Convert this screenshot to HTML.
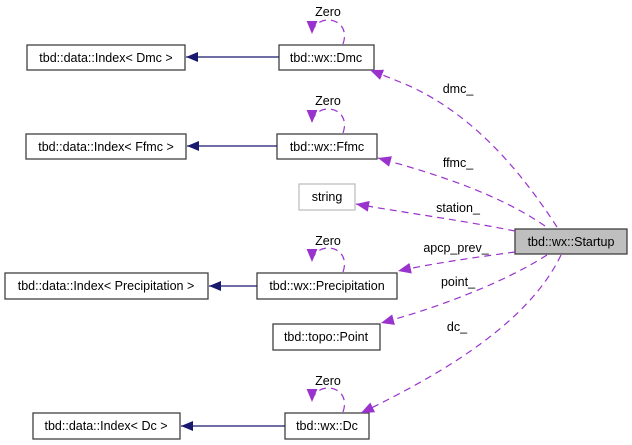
<!DOCTYPE html>
<html><head><meta charset="utf-8"><style>
html,body{margin:0;padding:0;background:#fff;}
svg{display:block;}
text{font-family:"Liberation Sans",Arial,sans-serif;font-size:12.5px;fill:#000;}
</style></head><body>
<svg width="632" height="445" viewBox="0 0 632 445" xmlns="http://www.w3.org/2000/svg">
<defs>
<marker id="pa" viewBox="0 0 12 10" refX="12" refY="5" markerWidth="13" markerHeight="11" markerUnits="userSpaceOnUse" orient="auto"><path d="M0,0 L12,5 L0,10 z" fill="#9a32cd"/></marker>
<marker id="ba" viewBox="0 0 12 10" refX="12" refY="5" markerWidth="12" markerHeight="10" markerUnits="userSpaceOnUse" orient="auto"><path d="M0,0 L12,5 L0,10 z" fill="#191970"/></marker>
</defs>
<g fill="#fff" stroke="#404040" stroke-width="1.3">
<rect x="27" y="45" width="158" height="25"/>
<rect x="279" y="45" width="95" height="25"/>
<rect x="26" y="134" width="160" height="25"/>
<rect x="277" y="134" width="100" height="25"/>
<rect x="299" y="184" width="56" height="26" stroke="#bfbfbf"/>
<rect x="515" y="229" width="112" height="25" fill="#bfbfbf"/>
<rect x="5" y="273" width="203" height="26"/>
<rect x="257" y="273" width="140" height="26"/>
<rect x="273" y="324" width="107" height="26"/>
<rect x="33" y="413" width="147" height="26"/>
<rect x="285" y="413" width="84" height="26"/>
</g>
<g stroke="#191970" stroke-width="1.2" fill="none">
<line x1="279" y1="57" x2="186" y2="57" marker-end="url(#ba)"/>
<line x1="277" y1="146" x2="187" y2="146" marker-end="url(#ba)"/>
<line x1="257" y1="286" x2="209" y2="286" marker-end="url(#ba)"/>
<line x1="285" y1="426" x2="181" y2="426" marker-end="url(#ba)"/>
</g>
<g stroke="#9a32cd" stroke-width="1.2" fill="none" stroke-dasharray="7,5">
<path d="M343,44 C348,30 340,20 328,20 C318,20 312,28 312,34" marker-end="url(#pa)"/>
<path d="M343,133 C348,119 340,109 328,109 C318,109 312,117 312,123" marker-end="url(#pa)"/>
<path d="M343,272 C348,258 340,248 328,248 C318,248 312,256 312,262" marker-end="url(#pa)"/>
<path d="M343,412 C348,398 340,388 328,388 C318,388 312,396 312,402" marker-end="url(#pa)"/>
<path d="M557,227 C520,170 470,110 400,82 L370,70" marker-end="url(#pa)"/>
<path d="M545,226 C500,195 440,175 378,158" marker-end="url(#pa)"/>
<path d="M515,231 C460,220 400,212 356,204" marker-end="url(#pa)"/>
<path d="M515,252 C470,258 430,264 398,271" marker-end="url(#pa)"/>
<path d="M547,255 C500,285 430,310 381,323" marker-end="url(#pa)"/>
<path d="M561,255 C530,320 450,370 361,413" marker-end="url(#pa)"/>
</g>
<g text-anchor="middle">
<text x="106" y="62">tbd::data::Index&lt; Dmc &gt;</text>
<text x="326" y="62">tbd::wx::Dmc</text>
<text x="106" y="151">tbd::data::Index&lt; Ffmc &gt;</text>
<text x="327" y="151">tbd::wx::Ffmc</text>
<text x="327" y="201">string</text>
<text x="571" y="246">tbd::wx::Startup</text>
<text x="106" y="290">tbd::data::Index&lt; Precipitation &gt;</text>
<text x="327" y="290">tbd::wx::Precipitation</text>
<text x="326" y="341">tbd::topo::Point</text>
<text x="106" y="430">tbd::data::Index&lt; Dc &gt;</text>
<text x="327" y="430">tbd::wx::Dc</text>
<text x="328" y="16">Zero</text>
<text x="328" y="105">Zero</text>
<text x="328" y="245">Zero</text>
<text x="328" y="385">Zero</text>
<text x="458" y="93">dmc_</text>
<text x="458" y="167">ffmc_</text>
<text x="458" y="212">station_</text>
<text x="456" y="252">apcp_prev_</text>
<text x="458" y="286">point_</text>
<text x="457" y="331">dc_</text>
</g>
</svg>
</body></html>
